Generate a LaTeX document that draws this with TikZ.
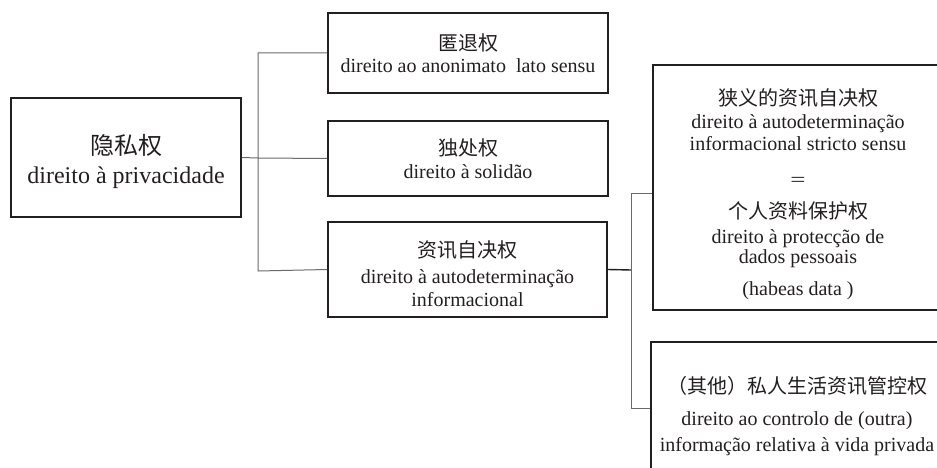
\documentclass[tikz,border=0pt]{standalone}
\usepackage{fontspec}
\setmainfont{Liberation Serif}
\newfontfamily\cjk{Noto Sans CJK SC}
\definecolor{ink}{HTML}{231F20}
\definecolor{wire}{HTML}{6A6A6A}
\newcommand\tightlines{\lineskiplimit-100pt\relax}
\begin{document}
\begin{tikzpicture}[x=1pt,y=-1pt,
  box/.style={draw=ink,line width=1.7pt,rectangle,inner sep=0pt,align=center,text=ink,
    font=\fontsize{20}{23}\selectfont\tightlines},
  wirestyle/.style={draw=wire,line width=1pt},
  darkwire/.style={draw=ink,line width=1.4pt}]
\clip (0,0) rectangle (937,468);
\fill[white] (0,0) rectangle (937,468);

\node[box,minimum width=230pt,minimum height=119pt,font=\fontsize{24}{29}\selectfont\tightlines]
  (b1) at (126,157.5) {\rule{0pt}{28pt}{\cjk 隐私权}\\direito à privacidade};
\node[box,minimum width=280pt,minimum height=80pt]
  (b2) at (468,53) {{\cjk 匿退权}\\[-1pt]direito ao anonimato\ \ lato sensu};
\node[box,minimum width=280pt,minimum height=75pt]
  (b3) at (468,158.5) {{\cjk 独处权}\\direito à solidão};
\node[box,minimum width=279pt,minimum height=95pt]
  (b4) at (467.5,269.5) {\rule{0pt}{26pt}{\cjk 资讯自决权}\\[3pt]direito à autodeterminação\\informacional};
\node[box,minimum width=290pt,minimum height=245pt]
  (b5) at (798,187.5) {\rule{0pt}{31pt}{\cjk 狭义的资讯自决权}\\direito à autodeterminação\\[-1pt]informacional stricto sensu\\[13pt]
  \scalebox{1.35}[1]{=}\\[9pt]{\cjk 个人资料保护权}\\[2pt]direito à protecção de\\[-3pt]dados pessoais\\[9pt](habeas data\ )};
\node[box,minimum width=292pt,minimum height=148pt]
  (b6) at (797,416) {{\cjk （其他）私人生活资讯管控权}\\[9pt]direito ao controlo de (outra)\\[3pt]informação relativa à vida privada};

\coordinate (j1) at (258,158);
\coordinate (j4) at (258,271);
\coordinate (k) at (631,270);

\draw[wirestyle] (b1.east) -- (j1);
\draw[wirestyle] (b2.west) -| (j4) -- (b4.west);
\draw[wirestyle] (j1) -- (b3.west);
\draw[darkwire] (b4.east) -- (k);
\draw[wirestyle] ([yshift=-5.5pt]b5.west) -| (k);
\draw[wirestyle] ([yshift=8pt]b6.west) -| (k);
\end{tikzpicture}
\end{document}
